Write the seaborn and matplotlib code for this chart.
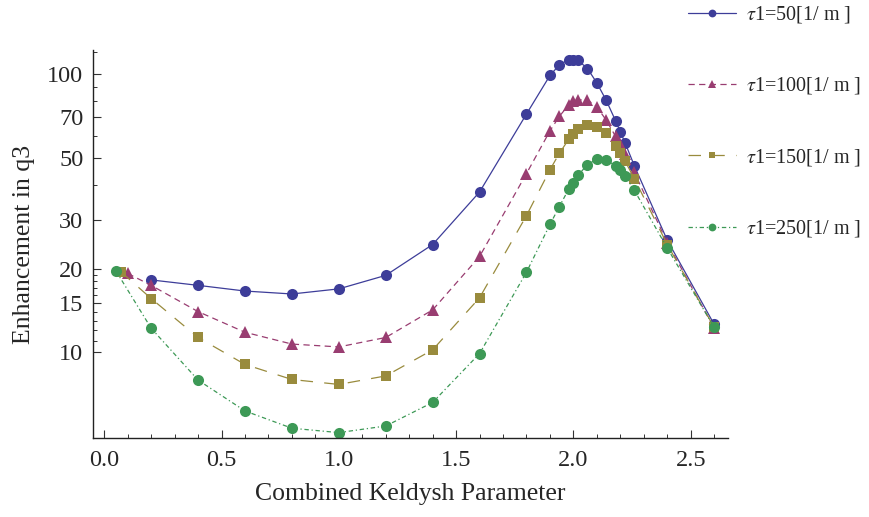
import matplotlib
matplotlib.use("Agg")
import matplotlib.pyplot as plt
import matplotlib.ticker as mticker
import seaborn as sns
import pandas as pd

# Combined Keldysh parameter (x) and enhancement in q3 (y) for four tau1 values
x_tau50 = [0.2, 0.4, 0.6, 0.8, 1.0, 1.2, 1.4, 1.6, 1.8, 1.9, 1.94, 1.98, 2.0, 2.02,
           2.06, 2.1, 2.14, 2.18, 2.2, 2.22, 2.26, 2.4, 2.6]
y_tau50 = [18.2, 17.4, 16.6, 16.2, 16.9, 18.9, 24.4, 37.7, 71.9, 98.9, 108.0, 112.9,
           112.9, 112.0, 104.8, 93.0, 80.5, 67.9, 62.1, 56.7, 46.8, 25.3, 12.6]

x_tau100 = [0.1, 0.2, 0.4, 0.6, 0.8, 1.0, 1.2, 1.4, 1.6, 1.8, 1.9, 1.94, 1.98, 2.0,
            2.02, 2.06, 2.1, 2.14, 2.18, 2.2, 2.22, 2.26, 2.4, 2.6]
y_tau100 = [19.2, 17.4, 14.0, 11.8, 10.7, 10.45, 11.3, 14.2, 22.1, 43.9, 62.5, 70.5,
            77.5, 80.0, 80.8, 80.8, 76.3, 68.3, 59.7, 56.0, 51.8, 44.3, 24.8, 12.2]

x_tau150 = [0.07, 0.2, 0.4, 0.6, 0.8, 1.0, 1.2, 1.4, 1.6, 1.8, 1.9, 1.94, 1.98, 2.0,
            2.02, 2.06, 2.1, 2.14, 2.18, 2.2, 2.22, 2.26, 2.4, 2.6]
y_tau150 = [19.5, 15.6, 11.3, 9.04, 7.98, 7.66, 8.22, 10.2, 15.7, 31.0, 45.3, 51.9,
            58.3, 61.1, 63.4, 65.5, 64.7, 61.2, 55.3, 52.0, 48.7, 42.1, 24.4, 12.3]

x_tau250 = [0.05, 0.2, 0.4, 0.6, 0.8, 1.0, 1.2, 1.4, 1.6, 1.8, 1.9, 1.94, 1.98, 2.0,
            2.02, 2.06, 2.1, 2.14, 2.18, 2.2, 2.22, 2.26, 2.4, 2.6]
y_tau250 = [19.6, 12.2, 7.94, 6.15, 5.33, 5.14, 5.43, 6.60, 9.89, 19.4, 28.8, 33.4,
            38.6, 40.7, 43.4, 47.2, 49.6, 49.2, 46.8, 45.2, 43.1, 38.2, 23.7, 12.3]

labels = [r"$\tau$1=50[1/ m ]", r"$\tau$1=100[1/ m ]",
          r"$\tau$1=150[1/ m ]", r"$\tau$1=250[1/ m ]"]

x_ticks = [0.0, 0.5, 1.0, 1.5, 2.0, 2.5]
y_ticks = [10, 15, 20, 30, 50, 70, 100]
y_minor = [11, 12, 13, 14, 16, 17, 18, 19, 40, 60, 80, 90, 120]

colors = ["#3d3d99", "#993d71", "#998b3d", "#3d9956"]
markers = ["o", "^", "s", "o"]
msizes = [8, 8.5, 7, 8]
styles = ["-", (0, (5, 3.5)), (0, (10, 9)), (0, (3.5, 2.2, 1, 2.2))]

sns.set_style("ticks")
plt.rcParams["font.family"] = ["Liberation Serif", "DejaVu Serif"]
plt.rcParams["mathtext.fontset"] = "stix"

fig = plt.figure(figsize=(8.69, 5.17), dpi=100)
ax = fig.add_axes([0.107, 0.153, 0.731, 0.750])

series = [(x_tau50, y_tau50), (x_tau100, y_tau100),
          (x_tau150, y_tau150), (x_tau250, y_tau250)]

handles = []
for (xs, ys), lab, c, m, ms, ls in zip(series, labels, colors, markers, msizes, styles):
    df = pd.DataFrame({"x": xs, "y": ys})
    sns.lineplot(data=df, x="x", y="y", ax=ax, color=c, marker=m, markersize=ms,
                 markeredgewidth=0, linewidth=0.9, linestyle=ls, sort=False,
                 label=lab, legend=False)
    handles.append(ax.lines[-1])

ax.set_yscale("log")
ax.set_xlim(-0.048, 2.66)
ax.set_ylim(4.92, 122)

ax.xaxis.set_major_locator(mticker.FixedLocator(x_ticks))
ax.xaxis.set_minor_locator(mticker.MultipleLocator(0.1))
ax.xaxis.set_major_formatter(mticker.FormatStrFormatter("%.1f"))
ax.yaxis.set_major_locator(mticker.FixedLocator(y_ticks))
ax.yaxis.set_minor_locator(mticker.FixedLocator(y_minor))
ax.yaxis.set_major_formatter(mticker.FixedFormatter([str(v) for v in y_ticks]))
ax.yaxis.set_minor_formatter(mticker.NullFormatter())

ax.tick_params(which="major", direction="in", length=6, width=0.8,
               labelsize=17.5, color="#333333")
ax.tick_params(axis="y", which="major", pad=7)
ax.tick_params(axis="x", which="major", pad=9)
ax.tick_params(which="minor", direction="in", length=3, width=0.7, color="#333333")

sns.despine(ax=ax)
for side in ("left", "bottom"):
    ax.spines[side].set_linewidth(1.0)
    ax.spines[side].set_color("#222222")

ax.set_xlabel("Combined Keldysh Parameter", fontsize=18.5, labelpad=8)
ax.set_ylabel("Enhancement in q3", fontsize=18.5, labelpad=9)

fig.legend(handles, labels, loc="upper left", bbox_to_anchor=(0.792, 0.992),
           frameon=False, fontsize=14.5, handlelength=2.35, handletextpad=0.5,
           labelspacing=2.5, markerscale=0.7, borderpad=0.0, borderaxespad=0.0)

fig.savefig("out.png", dpi=100)
